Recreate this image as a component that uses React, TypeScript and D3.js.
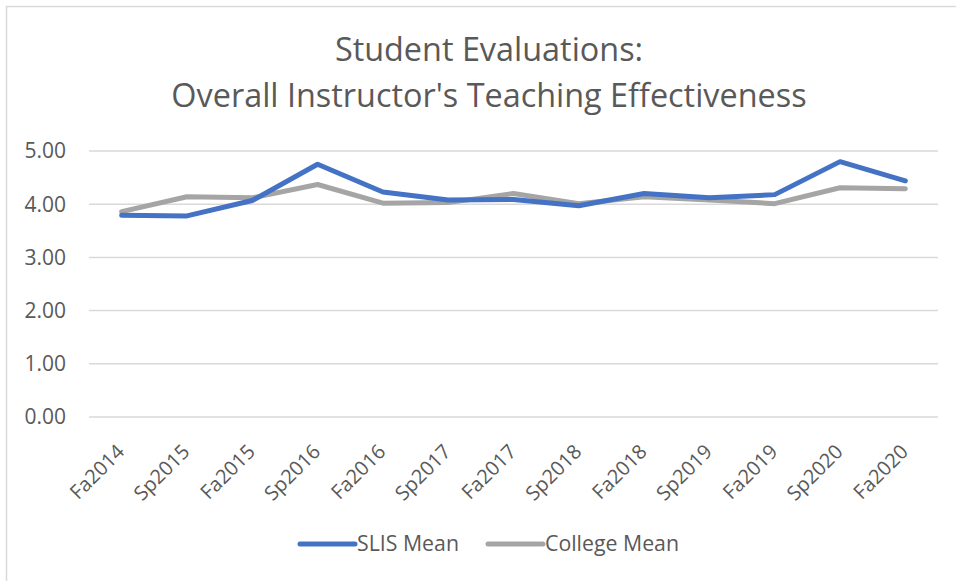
import React from "react";
import * as d3 from "d3";

const categories = ["Fa2014","Sp2015","Fa2015","Sp2016","Fa2016","Sp2017","Fa2017","Sp2018","Fa2018","Sp2019","Fa2019","Sp2020","Fa2020"];
const slisMean = [3.79,3.78,4.07,4.75,4.23,4.08,4.09,3.97,4.20,4.12,4.18,4.80,4.44];
const collegeMean = [3.86,4.14,4.12,4.37,4.02,4.03,4.20,4.01,4.14,4.08,4.01,4.31,4.29];
const yTicks = [0,1,2,3,4,5];
const titleLines = ["Student Evaluations:", "Overall Instructor's Teaching Effectiveness"];
const seriesNames = ["SLIS Mean", "College Mean"];
const colors = ["#4472C4", "#A5A5A5"];

const W = 956, H = 581;
const FONT = "'Open Sans', sans-serif";

export default function App() {
  const x = d3.scaleBand<string>().domain(categories).range([89, 938]);
  const y = d3.scaleLinear().domain([0, 5]).range([417, 151]);
  const line = d3.line<number>()
    .x((_, i) => (x(categories[i]) as number) + x.bandwidth() / 2)
    .y((d) => y(d));
  const series = [slisMean, collegeMean];
  const legendX = [300, 488];
  return (
    <svg width={W} height={H} style={{ position: "absolute", left: 0, top: 0, background: "#fff" }}>
      <rect x={6.5} y={6.5} width={W + 20} height={H + 20} fill="#fff" stroke="#D9D9D9" strokeWidth={1.5} />
      {titleLines.map((t, i) => (
        <text key={i} x={489} y={61 + i * 46} textAnchor="middle" fontFamily={FONT} fontSize={32.4} fill="#595959">{t}</text>
      ))}
      {yTicks.map((t) => (
        <g key={t}>
          <line x1={89} x2={938} y1={y(t)} y2={y(t)} stroke="#D9D9D9" strokeWidth={1.5} />
          <text x={66} y={y(t)} dy="0.35em" textAnchor="end" fontFamily={FONT} fontSize={21} fill="#595959">{d3.format(".2f")(t)}</text>
        </g>
      ))}
      {categories.map((c) => {
        const cx = (x(c) as number) + x.bandwidth() / 2 + 4;
        return (
          <text key={c} transform={`translate(${cx},453) rotate(-45)`} textAnchor="end" fontFamily={FONT} fontSize={20} fill="#595959">{c}</text>
        );
      })}
      {[1, 0].map((k) => (
        <path key={k} d={line(series[k]) || ""} fill="none" stroke={colors[k]} strokeWidth={5} strokeLinejoin="round" strokeLinecap="round" />
      ))}
      {seriesNames.map((n, i) => (
        <g key={n}>
          <line x1={legendX[i]} x2={legendX[i] + 55} y1={544} y2={544} stroke={colors[i]} strokeWidth={5} strokeLinecap="round" />
          <text x={legendX[i] + 57} y={544} dy="0.35em" fontFamily={FONT} fontSize={21.3} fill="#595959">{n}</text>
        </g>
      ))}
    </svg>
  );
}
